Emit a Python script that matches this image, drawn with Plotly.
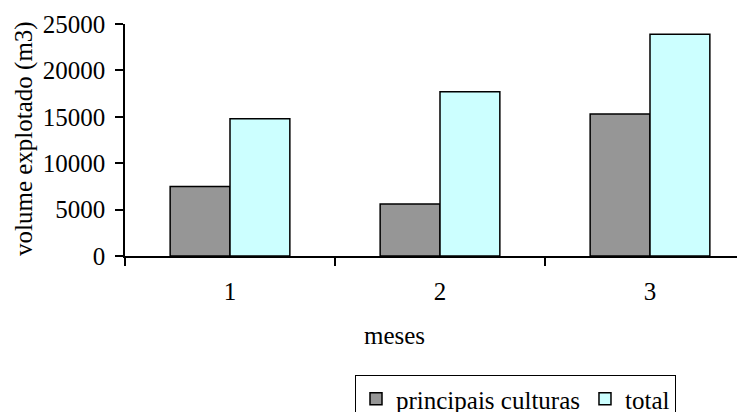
import plotly.graph_objects as go

meses = ["1", "2", "3"]
principais_culturas = [7500, 5600, 15300]
total = [14800, 17700, 23900]
y_ticks = [0, 5000, 10000, 15000, 20000, 25000]
y_tick_labels = ["0", "5000", "10000", "15000", "20000", "25000"]

# page has an 8px body margin: work in page pixels, convert to figure pixels
OFF = 8
W, H = 745, 412
L = 125 - OFF
T = 24 - OFF
ZERO_Y = 256 - OFF
R = 0
B = H - ZERO_Y
pw, ph = W - L - R, H - T - B

def px_x(px):
    return (px - OFF - L) / pw

def px_y(py):
    return (ZERO_Y - (py - OFF)) / ph

CAT_W = 210.0
FONT = "Liberation Serif, Times New Roman, serif"
FS = 25

fig = go.Figure()
fig.add_trace(go.Bar(x=meses, y=principais_culturas, name="principais culturas",
                     marker=dict(color="#969696", line=dict(color="black", width=1.5))))
fig.add_trace(go.Bar(x=meses, y=total, name="total",
                     marker=dict(color="#CCFFFF", line=dict(color="black", width=1.5))))

fig.update_layout(
    width=W, height=H,
    margin=dict(l=L, r=R, t=T, b=B, autoexpand=False),
    paper_bgcolor="white", plot_bgcolor="white",
    font=dict(family=FONT, size=FS, color="black"),
    barmode="group", bargap=0.43, bargroupgap=0,
    showlegend=True,
    legend=dict(orientation="h", x=px_x(355), y=px_y(375), xanchor="left", yanchor="top",
                bordercolor="black", borderwidth=1, bgcolor="white",
                font=dict(family=FONT, size=FS), itemwidth=30, traceorder="normal"),
    xaxis=dict(type="category", range=[-0.5, -0.5 + pw / CAT_W], showline=True,
               linecolor="black", linewidth=1.5, ticks="outside", tickson="boundaries",
               ticklen=8, tickcolor="black", tickwidth=1.5, showgrid=False,
               ticklabelstandoff=12, zeroline=False),
    yaxis=dict(range=[0, 25000], tickvals=y_ticks, ticktext=y_tick_labels, showline=True,
               linecolor="black", linewidth=1.5, ticks="outside", ticklen=8,
               tickcolor="black", tickwidth=1.5, showgrid=False, zeroline=False,
               ticklabelstandoff=5),
    annotations=[
        dict(text="meses", x=px_x(394), y=px_y(335), xref="paper", yref="paper",
             xanchor="center", yanchor="middle", showarrow=False, font=dict(size=FS)),
        dict(text="volume explotado (m3)", x=px_x(24), y=px_y(139), xref="paper", yref="paper",
             xanchor="center", yanchor="middle", textangle=-90, showarrow=False,
             font=dict(size=FS)),
    ],
)

fig.write_html("out.html")
